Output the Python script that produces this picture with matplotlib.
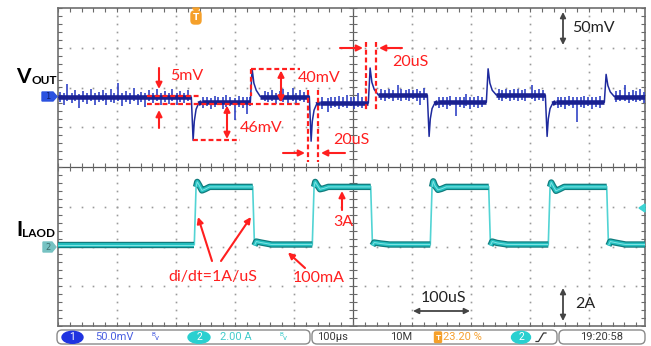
import numpy as np
import matplotlib.pyplot as plt
from matplotlib.patches import FancyBboxPatch, Ellipse, Polygon

# scope settings, from the readout line
CH1_SCALE = 50.0      # mV/div
CH2_SCALE = 2.0       # A/div
TIME_SCALE = 100.0    # us/div
TRIG_POS = 0.232      # 23.20 %
CH1_POS = 1.75        # div
CH2_POS = -2.0        # div

# VOUT (ch1) breakpoints: time in us, level in mV
vout_t = [-232, -6, -3, -1, 2, 6, 12,
          94, 97, 100, 104, 111,
          194, 197, 199, 202, 206, 212,
          294, 297, 300, 304, 311,
          394, 397, 399, 402, 406, 412,
          494, 497, 500, 504, 511,
          594, 597, 599, 602, 606, 612,
          694, 697, 700, 704, 711, 768]
vout_mv = [0, 0, -54, -30, -15, -8, -6,
           -6, 36, 18, 9, 1,
           1, -55, -30, -16, -9, -7,
           -7, 37, 19, 10, 3,
           3, -49, -27, -14, -8, -6,
           -6, 36, 18, 9, 3,
           3, -49, -27, -14, -8, -6,
           -6, 29, 15, 7, 1, 1]

# noise spikes on VOUT: time (us), lowest and highest mV
spike_t = [-229, -222, -216, -209, -203, -196, -189, -183, -176, -170, -163, -156,
           -150, -143, -137, -130, -124, -117, -110, -104, -97, -91, -84, -77,
           -71, -64, -58, -51, -44, -38, -31, -25, -18, -11,
           14, 21, 27, 34, 40, 47, 53, 60, 68, 74, 81, 88, 93,
           118, 124, 131, 137, 144, 150, 157, 166, 172, 179, 185, 192,
           216, 225, 231, 238, 244, 251, 257, 264, 270, 277, 283, 290,
           316, 322, 329, 335, 344, 350, 357, 363, 370, 376, 381, 388,
           414, 420, 427, 433, 443, 449, 456, 460, 467, 473, 480, 487,
           515, 521, 528, 534, 541, 547, 554, 560, 571, 577, 584, 590,
           615, 621, 628, 634, 641, 647, 654, 660, 667, 673, 680, 687,
           714, 720, 729, 735, 742, 748, 755, 761]
spike_lo = [-6, -9, -5, -7, -4, -13, -6, -8, -5, -10, -6, -4,
            -9, -6, -7, -5, -11, -6, -8, -5, -9, -6, -12, -5,
            -7, -4, -10, -6, -8, -5, -9, -6, -7, -5,
            -13, -11, -15, -12, -10, -14, -12, -11, -28, -12, -13, -21, -11,
            -5, -6, -4, -8, -5, -6, -7, -5, -8, -5, -6, -7,
            -14, -18, -13, -12, -15, -12, -13, -11, -14, -12, -13, -15,
            -3, -4, -2, -5, -3, -4, -3, -5, -2, -4, -9, -3,
            -13, -12, -14, -11, -23, -12, -13, -11, -14, -12, -13, -12,
            -3, -4, -2, -5, -3, -4, -3, -5, -2, -4, -3, -5,
            -13, -12, -14, -11, -13, -31, -12, -13, -11, -14, -12, -13,
            -6, -5, -4, -7, -5, -6, -4, -7]
spike_hi = [7, 5, 17, 6, 9, 4, 8, 6, 10, 5, 7, 9,
            5, 11, 6, 18, 5, 8, 6, 12, 4, 7, 5, 9,
            6, 10, 5, 8, 6, 11, 5, 8, 6, 9,
            0, 1, -1, 2, 0, 1, 3, 0, -1, 2, 0, 1, 0,
            8, 7, 9, 6, 8, 10, 7, 12, 6, 9, 7, 8,
            0, -1, 1, 0, 2, 0, 3, 0, 1, 5, 0, 1,
            10, 9, 11, 9, 16, 10, 9, 11, 9, 10, 8, 12,
            0, 1, 0, 2, 0, 1, 0, 4, 1, 0, 2, 0,
            10, 9, 11, 9, 10, 11, 9, 10, 16, 9, 10, 9,
            0, 1, 0, 2, 0, 1, 0, 2, 0, 1, 0, 2,
            8, 9, 16, 7, 9, 8, 10, 7]

# load current (ch2) breakpoints: time in us, current in A
iload_t = [-232, -1, 2, 4, 7, 12, 17, 25, 98, 101, 104, 112, 130, 199,
           202, 204, 207, 212, 218, 226, 298, 301, 304, 315, 330, 399,
           402, 404, 407, 412, 418, 426, 498, 501, 504, 512, 530, 599,
           602, 604, 607, 612, 618, 626, 698, 701, 704, 712, 730, 768]
iload_a = [0.1, 0.1, 3.0, 3.25, 3.1, 2.82, 2.88, 3.0, 3.0, 0.05, 0.25, 0.2, 0.1, 0.1,
           3.0, 3.25, 3.1, 2.88, 2.92, 3.0, 3.0, 0.05, 0.2, 0.15, 0.1, 0.1,
           3.0, 3.28, 3.05, 2.85, 2.9, 3.0, 3.0, 0.05, 0.25, 0.18, 0.1, 0.1,
           3.0, 3.22, 3.05, 2.8, 2.88, 3.0, 3.0, 0.05, 0.25, 0.2, 0.1, 0.1]

RED = '#ff1f1f'
GRAY = '#444444'
W, H = 651, 346
L, R, T, B = 58, 645, 8, 326          # scope screen, pixels
DIV_PX = 59.0
ndx = (R - L) / DIV_PX                # visible horizontal divisions

fig = plt.figure(figsize=(W / 100, H / 100), dpi=100)
rect = [L / W, 1 - B / H, (R - L) / W, (B - T) / H]

# graticule
ax = fig.add_axes(rect)
ax.set_xlim(0, ndx)
ax.set_ylim(-4, 4)
ax.set_xticks([])
ax.set_yticks([])
for s in ax.spines.values():
    s.set_color('#6e6e6e')
    s.set_linewidth(1.2)
sub_y = np.arange(-4, 4.01, 0.2)
sub_x = np.arange(0, ndx, 0.2)
for k in range(1, 10):
    if k != 5:
        ax.plot(np.full(sub_y.size, k), sub_y, ls='none', marker='s', ms=1.2,
                mew=0, color='#9a9a9a')
for k in (-3, -2, -1, 1, 2, 3):
    ax.plot(sub_x, np.full(sub_x.size, k), ls='none', marker='s', ms=1.2,
            mew=0, color='#9a9a9a')
ax.axhline(0, color='#5a5a5a', lw=0.9)
ax.axvline(5, color='#5a5a5a', lw=0.9)
for yy in (0, 4, -4):
    ax.plot(sub_x, np.full(sub_x.size, yy), ls='none', marker='|', ms=6,
            mew=0.8, color='#6a6a6a')
for xx in (5, 0, ndx):
    ax.plot(np.full(sub_y.size, xx), sub_y, ls='none', marker='_', ms=6,
            mew=0.8, color='#6a6a6a')

t_left = -TRIG_POS * 10 * TIME_SCALE
t_right = t_left + ndx * TIME_SCALE

# channel 2: load current
ax_i = fig.add_axes(rect)
ax_i.set_xlim(t_left, t_right)
ax_i.set_ylim((-4 - CH2_POS) * CH2_SCALE, (4 - CH2_POS) * CH2_SCALE)
ax_i.axis('off')
it = np.array(iload_t, dtype=float)
ia = np.array(iload_a)
ax_i.plot(it, ia, color='#52d4d4', lw=1.2, solid_joinstyle='miter')
cuts = np.where(np.abs(np.diff(ia)) > 1.0)[0] + 1
for seg_t, seg_a in zip(np.split(it, cuts), np.split(ia, cuts)):
    ax_i.plot(seg_t, seg_a, color='#107c7d', lw=4.6, solid_capstyle='butt')
    ax_i.plot(seg_t, seg_a, color='#24c0c0', lw=2.8, solid_capstyle='butt')
    ax_i.plot(seg_t, seg_a, color='#80e4e4', lw=0.7, solid_capstyle='butt')

# channel 1: output voltage
ax_v = fig.add_axes(rect)
ax_v.set_xlim(t_left, t_right)
ax_v.set_ylim((-4 - CH1_POS) * CH1_SCALE, (4 - CH1_POS) * CH1_SCALE)
ax_v.axis('off')
vt = np.array(vout_t, dtype=float)
vm = np.array(vout_mv, dtype=float)
ax_v.vlines(spike_t, spike_lo, spike_hi, color='#3244c6', lw=1.2)
ax_v.plot(vt, vm, color='#1e2a9e', lw=1.1)
# settled parts of the trace carry the dense noise band
for i in range(len(vt) - 1):
    if abs(vm[i + 1] - vm[i]) <= 3:
        ax_v.plot(vt[i:i + 2], vm[i:i + 2], color='#1a2190', lw=3.3,
                  solid_capstyle='butt')

# overlay in pixel coordinates for labels and annotations
ann = fig.add_axes([0, 0, 1, 1])
ann.set_xlim(0, W)
ann.set_ylim(H, 0)
ann.axis('off')


def arrow(x0, y0, x1, y1, color=RED, lw=1.5, style='-|>', ms=9):
    ann.annotate('', xy=(x1, y1), xytext=(x0, y0),
                 arrowprops=dict(arrowstyle=style, color=color, lw=lw,
                                 shrinkA=0, shrinkB=0, mutation_scale=ms))


def dash(x0, y0, x1, y1):
    ann.plot([x0, x1], [y0, y1], color=RED, lw=1.6, ls=(0, (2.2, 1.3)))


def label(x, y, s, color=RED, size=11.5):
    ann.text(x, y, s, color=color, fontsize=size, family='Lato',
             ha='left', va='center')


# channel names
ann.text(16, 83, 'V', fontsize=15, fontweight='bold', family='Lato', va='baseline')
ann.text(32, 84, 'OUT', fontsize=8.5, fontweight='bold', family='Lato', va='baseline')
ann.text(16, 236, 'I', fontsize=15, fontweight='bold', family='Lato', va='baseline')
ann.text(22, 237, 'LAOD', fontsize=8.5, fontweight='bold', family='Lato', va='baseline')

# channel position tags
ann.add_patch(Polygon([(42, 92), (53, 92), (57, 96.5), (53, 101), (42, 101)],
                      closed=True, color='#2b52e0'))
ann.text(48, 96.8, '1', fontsize=6, color='#102070', ha='center', va='center')
ann.add_patch(Polygon([(43, 242), (52, 242), (56, 247), (52, 252), (43, 252)],
                      closed=True, color='#76c2c2'))
ann.text(48.5, 247.2, '2', fontsize=6, color='#3d6d6d', ha='center', va='center')

# trigger marker and trigger level
ann.add_patch(Polygon([(192.5, 8), (199.5, 8), (196, 11.5)], closed=True, color='#f5a02a'))
ann.add_patch(FancyBboxPatch((191, 11), 10, 13, boxstyle='round,pad=0,rounding_size=3.5',
                             color='#f5a02a'))
ann.text(196, 17.8, 'T', fontsize=6.5, fontweight='bold', color='white',
         ha='center', va='center')
ann.add_patch(Polygon([(639, 208), (645, 204), (645, 212)], closed=True, color='#3cd4d4'))

# 5mV step
arrow(159, 68, 159, 89)
arrow(159, 128, 159, 110)
label(170, 76, '5mV')
dash(147, 95.5, 200, 95.5)
dash(147, 104, 300, 104)
# 46mV undershoot
dash(193, 140, 240, 140)
ann.annotate('', xy=(227, 139), xytext=(227, 105.5),
             arrowprops=dict(arrowstyle='<|-|>', color=RED, lw=1.5,
                             shrinkA=0, shrinkB=0, mutation_scale=9))
label(240, 128, '46mV')
# 40mV overshoot
dash(251, 69, 300, 69)
dash(251, 69, 251, 96)
ann.annotate('', xy=(281, 70.5), xytext=(281, 102.5),
             arrowprops=dict(arrowstyle='<|-|>', color=RED, lw=1.5,
                             shrinkA=0, shrinkB=0, mutation_scale=9))
label(298, 77.5, '40mV')
# 20uS recovery, lower
dash(308, 90, 308, 162)
dash(318, 90, 318, 162)
arrow(283, 153, 305, 153)
arrow(345, 153, 321, 153)
label(333, 139.5, '20uS')
# 20uS recovery, upper
dash(366, 42, 366, 110)
dash(376, 42, 376, 110)
arrow(340, 48, 363, 48)
arrow(402, 48, 379, 48)
label(392, 61.5, '20uS')

# load current notes
label(168, 276.5, 'di/dt=1A/uS')
arrow(212, 261, 198, 217)
arrow(221, 261, 251, 217)
label(293, 277.5, '100mA')
arrow(305, 268, 288, 252.5)
label(333, 222, '3A')
arrow(342, 210, 342, 191)

# scale notes
ann.annotate('', xy=(563, 12), xytext=(563, 45),
             arrowprops=dict(arrowstyle='<|-|>', color=GRAY, lw=1.3,
                             shrinkA=0, shrinkB=0, mutation_scale=8))
label(572, 28.5, '50mV', color='#222222')
ann.annotate('', xy=(413, 311), xytext=(470, 311),
             arrowprops=dict(arrowstyle='<|-|>', color=GRAY, lw=1.3,
                             shrinkA=0, shrinkB=0, mutation_scale=8))
label(421, 297.5, '100uS', color='#222222')
ann.annotate('', xy=(563, 288), xytext=(563, 321),
             arrowprops=dict(arrowstyle='<|-|>', color=GRAY, lw=1.3,
                             shrinkA=0, shrinkB=0, mutation_scale=8))
label(575, 304, '2A', color='#222222')

# status bar
for x0, x1 in ((57, 310), (312, 557), (559, 645)):
    ann.add_patch(FancyBboxPatch((x0, 330), x1 - x0, 14,
                                 boxstyle='round,pad=0,rounding_size=5',
                                 fc='white', ec='#8a8a8a', lw=1.0))
bar_y = 337.3
ann.add_patch(Ellipse((72.5, bar_y), 21, 12, color='#1f33e0'))
ann.text(72.5, bar_y, '1', fontsize=7.5, color='white', ha='center', va='center',
         family='Roboto')
ann.text(95, bar_y, '50.0mV', fontsize=8, color='#4a5fe0', va='center', family='Roboto')
ann.add_patch(Ellipse((199, bar_y), 22, 12, color='#2ad0d0'))
ann.text(199, bar_y, '2', fontsize=7.5, color='white', ha='center', va='center',
         family='Roboto')
ann.text(220, bar_y, '2.00 A', fontsize=8, color='#44cccc', va='center', family='Roboto')
for xb, col in ((155, '#4a5fe0'), (283, '#44cccc')):
    ann.text(xb - 1.5, bar_y - 2.5, 'B', fontsize=4.5, color=col, ha='center',
             va='center', family='Roboto')
    ann.text(xb + 1.5, bar_y + 1, 'v', fontsize=6, color=col, ha='center',
             va='center', family='Roboto')
ann.text(317, bar_y, '100\u00b5s', fontsize=8, color='#3a3a3a', va='center', family='Roboto')
ann.text(390, bar_y, '10M', fontsize=8, color='#3a3a3a', va='center', family='Roboto')
ann.add_patch(FancyBboxPatch((434.5, 332), 7, 10.5, boxstyle='round,pad=0,rounding_size=1',
                             color='#f5a02a'))
ann.text(438, bar_y, 'T', fontsize=6, fontweight='bold', color='white', ha='center',
         va='center', family='Roboto')
ann.text(443, bar_y, '23.20 %', fontsize=8, color='#f5a030', va='center', family='Roboto')
ann.add_patch(Ellipse((521, bar_y), 19, 12, color='#2ad0d0'))
ann.text(521, bar_y, '2', fontsize=7.5, color='white', ha='center', va='center',
         family='Roboto')
ann.plot([536, 538.5, 543.5, 546], [341.5, 341.5, 333, 333], color='#333333', lw=0.9)
ann.text(602, bar_y, '19:20:58', fontsize=8, color='#3a3a3a', ha='center', va='center',
         family='Roboto')

fig.savefig('out.png', dpi=100)
